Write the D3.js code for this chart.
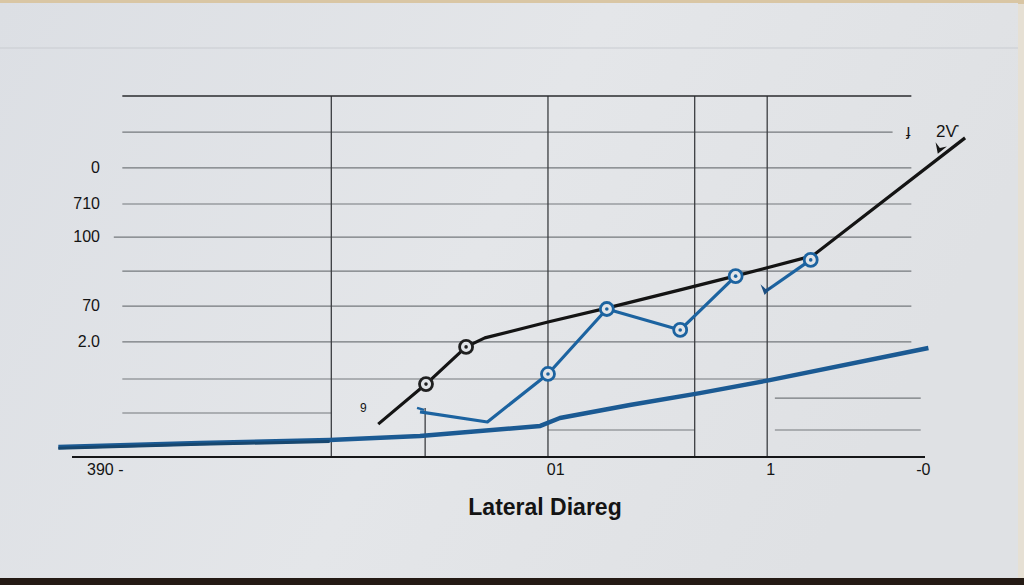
<!DOCTYPE html>
<html>
<head>
<meta charset="utf-8">
<script src="https://cdn.jsdelivr.net/npm/d3@7"></script>
<style>
  html, body { margin: 0; padding: 0; background: #1f1712; }
  svg { display: block; }
  text { font-family: "Liberation Sans", Arial, sans-serif; fill: #141414; }
</style>
</head>
<body>
<svg id="chart" width="1024" height="585"></svg>
<script>
// values (x and y both in 0..100 chart units)
const blackX = [35.9, 41.5, 46.2, 48.4, 55.8, 62.8, 71.3, 77.7, 86.8, 104.7];
const blackY = [9.1, 20.2, 30.5, 33.0, 37.4, 41.3, 46.3, 50.1, 55.7, 88.4];
const blackMarked = [1, 2];

const blueX = [40.8, 48.7, 55.8, 62.7, 71.3, 77.8];
const blueY = [12.5, 9.7, 23.0, 41.0, 35.2, 50.1];
const blueMarked = [2, 3, 4, 5];

const blue2X = [81.2, 86.6];
const blue2Y = [45.7, 54.6];

const baseX = [-1.6, 15.0, 30.2, 40.8, 54.9, 57.2, 65.4, 73.6, 81.8, 100.4];
const baseY = [2.8, 3.9, 4.7, 5.8, 8.6, 10.8, 14.4, 17.7, 21.3, 30.2];

// grid rows: [y, xFrom, xTo]
const gridRows = [
  [90.0, 5.9, 96.2], [80.1, 5.9, 98.4], [70.1, 5.9, 98.4], [60.9, 4.9, 98.4],
  [51.5, 5.9, 98.4], [41.8, 5.9, 98.4], [31.9, 5.9, 98.4], [21.6, 5.9, 81.5],
  [12.2, 5.9, 30.4], [7.5, 55.8, 73.0], [16.3, 82.4, 99.5], [7.5, 82.4, 99.5]
];
const gridCols = [30.4, 55.8, 73.0, 81.5];
const shortCol = 41.4;

const yLabels = ["0", "710", "100", "70", "2.0"];
const yLabelAt = [80.1, 70.1, 60.9, 41.8, 31.9];
const xLabels = ["390 -", "01", "1", "-0"];
const xLabelAt = [3.9, 56.7, 81.9, 99.8];
const title = "Lateral Diareg";

const W = 1024, H = 585;
const svg = d3.select("#chart");

const x = d3.scaleLinear().domain([0, 100]).range([72, 925]);
const y = d3.scaleLinear().domain([0, 100]).range([457, 96]);

// paper
const grad = svg.append("defs").append("linearGradient")
  .attr("id", "paper").attr("x1", 0).attr("x2", 1).attr("y1", 0).attr("y2", 0.3);
grad.append("stop").attr("offset", "0%").attr("stop-color", "#dcdfe4");
grad.append("stop").attr("offset", "55%").attr("stop-color", "#e4e6e9");
grad.append("stop").attr("offset", "100%").attr("stop-color", "#dfe1e4");

svg.append("rect").attr("width", W).attr("height", H).attr("fill", "#241a14");
svg.append("rect").attr("x", 0).attr("y", 0).attr("width", W).attr("height", 578).attr("fill", "#e6e0d4");
svg.append("rect").attr("x", 0).attr("y", 0).attr("width", W).attr("height", 4).attr("fill", "#d9c6a4");
svg.append("rect").attr("x", 0).attr("y", 3).attr("width", 1018).attr("height", 575)
  .attr("fill", "url(#paper)");
svg.append("line").attr("x1", 0).attr("x2", 1018).attr("y1", 48).attr("y2", 48)
  .attr("stroke", "#c9ccd1").attr("stroke-width", 1);

// grid
const g = svg.append("g");
g.selectAll(".row").data(gridRows).join("line")
  .attr("x1", d => x(d[1])).attr("x2", d => x(d[2]))
  .attr("y1", d => y(d[0])).attr("y2", d => y(d[0]))
  .attr("stroke", "#75787c").attr("stroke-width", 1.1);

g.selectAll(".col").data(gridCols).join("line")
  .attr("x1", d => x(d)).attr("x2", d => x(d))
  .attr("y1", y(100)).attr("y2", y(0))
  .attr("stroke", "#3c3e42").attr("stroke-width", 1.3);

g.append("line")
  .attr("x1", x(shortCol)).attr("x2", x(shortCol))
  .attr("y1", y(13.6)).attr("y2", y(0))
  .attr("stroke", "#3c3e42").attr("stroke-width", 1.3);

// top border and bottom axis
g.append("line").attr("x1", x(5.9)).attr("x2", x(98.4)).attr("y1", y(100)).attr("y2", y(100))
  .attr("stroke", "#2a2b2e").attr("stroke-width", 1.6);
g.append("line").attr("x1", x(0)).attr("x2", x(100)).attr("y1", y(0)).attr("y2", y(0))
  .attr("stroke", "#151618").attr("stroke-width", 2.2);

// lines
const line = d3.line().x(d => x(d[0])).y(d => y(d[1]));
const zip = (a, b) => a.map((v, i) => [v, b[i]]);

svg.append("path").datum(zip(baseX, baseY)).attr("d", line)
  .attr("fill", "none").attr("stroke", "#1b5a93").attr("stroke-width", 4.5)
  .attr("stroke-linejoin", "round");
svg.append("path").datum(zip(baseX.slice(0, 3), baseY.slice(0, 3).map(v => v - 0.4))).attr("d", line)
  .attr("fill", "none").attr("stroke", "#17476f").attr("stroke-width", 3);

const blackPts = zip(blackX, blackY);
svg.append("path").datum(blackPts).attr("d", line)
  .attr("fill", "none").attr("stroke", "#141414").attr("stroke-width", 3.2)
  .attr("stroke-linejoin", "round");

const bluePts = zip(blueX, blueY);
svg.append("path").datum(bluePts).attr("d", line)
  .attr("fill", "none").attr("stroke", "#1c63a0").attr("stroke-width", 3.2)
  .attr("stroke-linejoin", "round");
svg.append("path").datum(zip(blue2X, blue2Y)).attr("d", line)
  .attr("fill", "none").attr("stroke", "#1c63a0").attr("stroke-width", 3.2);

// small tick at blue start
svg.append("path")
  .attr("d", `M${x(blueX[0]) - 3},${y(blueY[0]) - 4} L${x(blueX[0]) + 4},${y(blueY[0]) - 2}`)
  .attr("stroke", "#1c63a0").attr("stroke-width", 2.5);

// arrowheads
const arrow = (px, py, angle, color) => svg.append("path")
  .attr("d", "M0,0 L-10,-6 L-6,0 L-10,6 Z")
  .attr("transform", `translate(${px},${py}) rotate(${angle})`)
  .attr("fill", color);
arrow(x(blue2X[0]), y(blue2Y[0]) + 3, 100, "#1c4f82");
arrow(x(101.5), y(84.0), 110, "#141414");

// markers
const marker = (pts, color) => {
  const m = svg.append("g").selectAll("g").data(pts).join("g")
    .attr("transform", d => `translate(${x(d[0])},${y(d[1])})`);
  m.append("circle").attr("r", 6.5).attr("fill", "#e1e4e8")
    .attr("stroke", color).attr("stroke-width", 2.8);
  m.append("circle").attr("r", 1.8).attr("fill", color);
};
marker(blackMarked.map(i => blackPts[i]), "#202020");
marker(blueMarked.map(i => bluePts[i]), "#1c63a0");
marker([zip(blue2X, blue2Y)[1]], "#1c63a0");

// labels
svg.append("g").selectAll("text").data(yLabels).join("text")
  .attr("x", 100).attr("y", (d, i) => y(yLabelAt[i]) + 5)
  .attr("text-anchor", "end").attr("font-size", 16).text(d => d);

svg.append("g").selectAll("text").data(xLabels).join("text")
  .attr("x", (d, i) => x(xLabelAt[i])).attr("y", 475)
  .attr("text-anchor", "middle")
  .attr("font-size", 16).text(d => d);

svg.append("text").attr("x", 360).attr("y", 412).attr("font-size", 12).text("9");
svg.append("text").attr("x", 906).attr("y", 136).attr("font-size", 16).text("ɟ");
svg.append("text").attr("x", 936).attr("y", 137).attr("font-size", 17).text("2Ѵ");

svg.append("text").attr("x", 545).attr("y", 515).attr("text-anchor", "middle")
  .attr("font-size", 23).attr("font-weight", "bold").attr("fill", "#222").text(title);
</script>
</body>
</html>
